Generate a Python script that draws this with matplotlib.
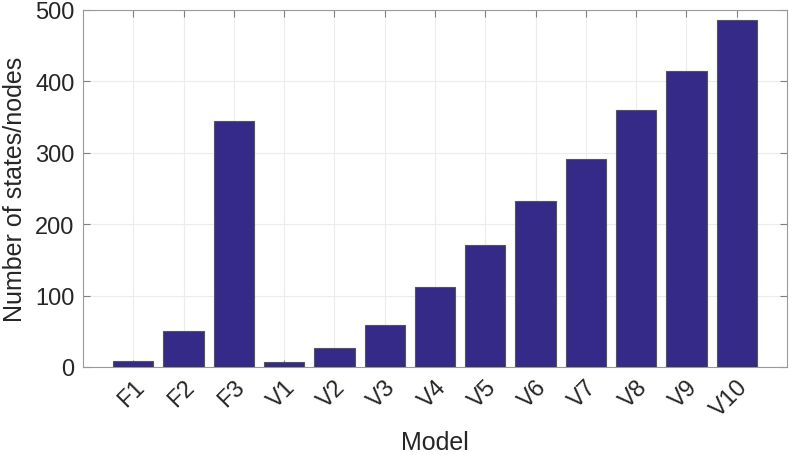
import numpy as np
import matplotlib
matplotlib.use("Agg")
from matplotlib import pyplot as plt

models = ["F1", "F2", "F3", "V1", "V2", "V3", "V4", "V5", "V6", "V7", "V8", "V9", "V10"]
n_states = [9, 50, 344, 7, 26, 59, 112, 171, 232, 292, 360, 415, 486]

plt.rcParams['font.family'] = ['Liberation Sans', 'DejaVu Sans']

fig = plt.figure(figsize=(7.89, 4.56), dpi=100)
ax = fig.add_axes([83 / 789, 1 - 368 / 456, (787 - 83) / 789, (368 - 11) / 456])

x = np.arange(1, len(models) + 1)
ax.bar(x, n_states, width=0.8, color='#352a87', edgecolor='#555555', linewidth=0.8, zorder=3)

ax.set_xlim(0, 14)
ax.set_ylim(0, 500)
ax.set_xticks(x)
ax.set_xticklabels(models, rotation=45, ha='right', rotation_mode='anchor')
ax.set_yticks([0, 100, 200, 300, 400, 500])

ax.grid(True, color='#ececec', linewidth=0.8, zorder=0)
ax.tick_params(direction='in', top=True, right=True, length=5, width=0.8,
               color='#808080', labelsize=17, labelcolor='#262626', pad=6)
for s in ax.spines.values():
    s.set_color('#999999')
    s.set_linewidth(0.8)

ax.set_xlabel("Model", fontsize=18, color='#262626', labelpad=7)
ax.set_ylabel("Number of states/nodes", fontsize=18, color='#262626', labelpad=6)

plt.savefig("out.png", dpi=100)
